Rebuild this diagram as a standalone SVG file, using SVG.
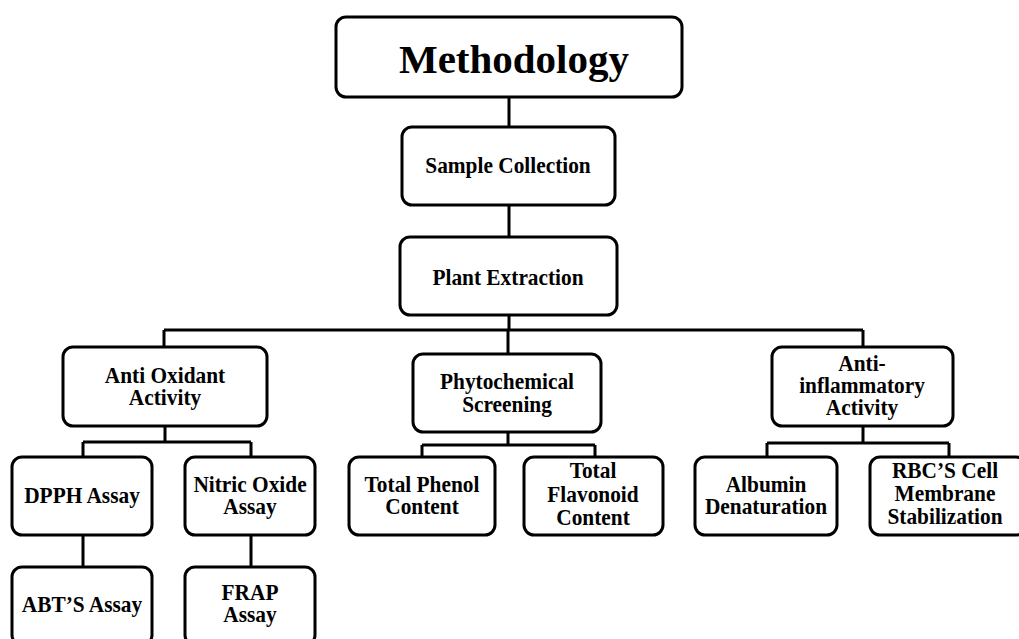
<svg xmlns="http://www.w3.org/2000/svg" width="1019" height="639" viewBox="0 0 1019 639">
<style>
.box{fill:#fff;stroke:#000;stroke-width:3}
.lbl{font-family:"Liberation Serif","Times New Roman",serif;font-weight:bold;font-size:24px;fill:#000;text-anchor:middle}
.title{font-family:"Liberation Serif","Times New Roman",serif;font-weight:bold;font-size:41px;fill:#000;text-anchor:middle}
.con{fill:none;stroke:#000;stroke-width:3}
</style>
<rect width="1019" height="639" fill="#fff"/>
<g id="connectors">
<path class="con" d="M509 97V127M509 205V237M509 315V330M164 330H863M164 330V347M508 330V354M863 330V347"/>
<path class="con" d="M165 426V442M83 442H251M83 442V457M251 442V457M83 535V567M251 535V567"/>
<path class="con" d="M508 432V445M422 445H595M422 445V457M595 445V457"/>
<path class="con" d="M863 426V443M767 443H949M767 443V457M949 443V457"/>
</g>
<g id="methodology"><rect class="box" x="336" y="17" width="346" height="80" rx="10"/><text class="title" x="514" y="73">Methodology</text></g>
<g id="sample"><rect class="box" x="402" y="127" width="213" height="78" rx="10"/><text class="lbl" transform="translate(508 173) scale(0.89 1)">Sample Collection</text></g>
<g id="plant"><rect class="box" x="400" y="237" width="217" height="78" rx="10"/><text class="lbl" transform="translate(508 285) scale(0.89 1)">Plant Extraction</text></g>
<g id="antioxidant"><rect class="box" x="63" y="347" width="204" height="79" rx="10"/><text class="lbl" transform="translate(165 383) scale(0.89 1)"><tspan x="0">Anti Oxidant</tspan><tspan x="0" dy="22">Activity</tspan></text></g>
<g id="phyto"><rect class="box" x="413" y="354" width="188" height="78" rx="10"/><text class="lbl" transform="translate(507 389) scale(0.89 1)"><tspan x="0">Phytochemical</tspan><tspan x="0" dy="23">Screening</tspan></text></g>
<g id="antiinflam"><rect class="box" x="772" y="347" width="181" height="79" rx="10"/><text class="lbl" transform="translate(862 371) scale(0.89 1)"><tspan x="0">Anti-</tspan><tspan x="0" dy="22">inflammatory</tspan><tspan x="0" dy="22">Activity</tspan></text></g>
<g id="dpph"><rect class="box" x="12" y="457" width="140" height="78" rx="10"/><text class="lbl" transform="translate(82 503) scale(0.89 1)">DPPH Assay</text></g>
<g id="nitric"><rect class="box" x="185" y="457" width="130" height="78" rx="10"/><text class="lbl" transform="translate(250 492) scale(0.89 1)"><tspan x="0">Nitric Oxide</tspan><tspan x="0" dy="22">Assay</tspan></text></g>
<g id="phenol"><rect class="box" x="349" y="457" width="146" height="78" rx="10"/><text class="lbl" transform="translate(422 492) scale(0.89 1)"><tspan x="0">Total Phenol</tspan><tspan x="0" dy="22">Content</tspan></text></g>
<g id="flavonoid"><rect class="box" x="524" y="457" width="139" height="78" rx="10"/><text class="lbl" transform="translate(593 478) scale(0.89 1)"><tspan x="0">Total</tspan><tspan x="0" dy="24">Flavonoid</tspan><tspan x="0" dy="23">Content</tspan></text></g>
<g id="albumin"><rect class="box" x="695" y="457" width="142" height="78" rx="10"/><text class="lbl" transform="translate(766 492) scale(0.89 1)"><tspan x="0">Albumin</tspan><tspan x="0" dy="22">Denaturation</tspan></text></g>
<g id="rbc"><rect class="box" x="870" y="457" width="156" height="78" rx="10"/><text class="lbl" transform="translate(945 478) scale(0.89 1)"><tspan x="0">RBC’S Cell</tspan><tspan x="0" dy="23">Membrane</tspan><tspan x="0" dy="23">Stabilization</tspan></text></g>
<g id="abts"><rect class="box" x="12" y="567" width="140" height="78" rx="10"/><text class="lbl" transform="translate(82 612) scale(0.89 1)">ABT’S Assay</text></g>
<g id="frap"><rect class="box" x="185" y="567" width="130" height="78" rx="10"/><text class="lbl" transform="translate(250 600) scale(0.89 1)"><tspan x="0">FRAP</tspan><tspan x="0" dy="22">Assay</tspan></text></g>
</svg>
